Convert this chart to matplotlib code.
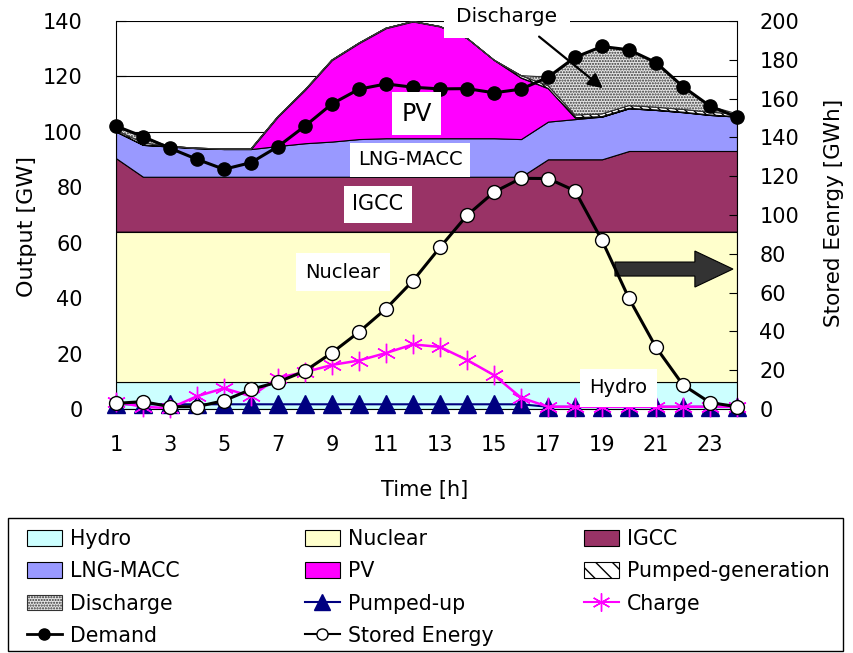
import numpy as np
import matplotlib
matplotlib.use("Agg")
import matplotlib.pyplot as plt
from matplotlib.patches import Patch, FancyArrow, Rectangle
from matplotlib.lines import Line2D

plt.rcParams['font.family'] = ['DejaVu Sans']
plt.rcParams['hatch.linewidth'] = 1.0

hours = np.arange(1, 25)

# GW, stacked from the bottom
hydro = [9.9] * 24
nuclear = [54.1] * 24
igcc = [26.5] + [19.8] * 15 + [26.1] * 3 + [29.1] * 5
lng = [9.6, 11.5, 10.9, 10.3, 10.0, 10.0, 11.1, 12.1, 12.7, 13.6, 13.9, 13.9,
       13.9, 13.9, 13.9, 13.6, 13.6, 14.5, 15.4, 15.4, 14.8, 14.0, 13.0, 12.4]
pv = [0, 0, 0, 0, 0, 0, 10.6, 19.2, 29.4, 34.6, 39.7, 42.1,
      40.3, 36.1, 28.2, 22.1, 12.0, 0.5, 0, 0, 0, 0, 0, 0]
pumped_gen = [0.5, 0.8, 0, 0, 0, 0, 0, 0, 0, 0, 0, 0,
              0, 0, 0, 0.8, 1.0, 1.0, 1.0, 1.0, 1.0, 1.0, 1.0, 1.0]
discharge = [1.5, 2.0, 0, 0, 0, 0, 0, 0, 0, 0, 0, 0,
             0, 0, 0, 0, 3.0, 20.8, 24.3, 20.1, 16.1, 8.2, 2.2, 0]

# GW lines
demand = [102.1, 98.3, 94.1, 90.1, 86.5, 88.9, 94.7, 102.1, 110.1, 115.4, 117.3, 116.1,
          115.5, 115.6, 114.1, 115.4, 119.7, 126.9, 130.8, 129.6, 125.0, 116.3, 109.3, 105.3]
charge = [2.5, 0.8, 0.3, 4.6, 7.5, 4.6, 11.3, 13.3, 15.9, 17.5, 20.2, 23.3,
          22.4, 17.7, 12.2, 4.1, 0.8, 0.8, 0.8, 0.8, 0.8, 0.8, 0.8, 0.8]
pumped_up = [1.7] * 16 + [0.8] * 8

# GWh, right axis
stored = [2.9, 3.8, 1.2, 1.2, 4.3, 10.1, 13.9, 19.6, 29.0, 39.7, 51.7, 66.1,
          83.3, 99.8, 111.8, 118.9, 118.8, 112.5, 86.9, 57.0, 31.8, 12.4, 3.3, 1.2]

xticks = list(range(1, 24, 2))

fig = plt.figure(figsize=(8.54, 6.53), dpi=100)
ax = fig.add_axes([116 / 854, 1 - 409 / 653, 621 / 854, 388 / 653])

layers = [
    (hydro, dict(facecolor='#CCFFFF')),
    (nuclear, dict(facecolor='#FFFFCC')),
    (igcc, dict(facecolor='#993366')),
    (lng, dict(facecolor='#9999FF')),
    (pv, dict(facecolor='#FF00FF')),
    (pumped_gen, dict(facecolor='white', hatch='\\\\\\\\')),
    (discharge, dict(facecolor='#e6e6e6', hatch='......')),
]
base = np.zeros(24)
for vals, style in layers:
    top = base + np.array(vals)
    ec = '#333333' if style.get('hatch') == '......' else 'black'
    ax.fill_between(hours, base, top, edgecolor=ec, linewidth=0.8, **style)
    base = top

ax.plot(hours, pumped_up, color='#000080', lw=1.5, marker='^', ms=13,
        clip_on=False, zorder=4)
ax.plot(hours, charge, color='#FF00FF', lw=1.8, marker=(6, 2, 0), ms=14,
        mew=1.0, clip_on=False, zorder=4)
ax.plot(hours, demand, color='black', lw=2.2, marker='o', ms=9.5,
        clip_on=False, zorder=5)

ax.set_xlim(1, 24)
ax.set_ylim(0, 140)
ax.set_yticks(range(0, 141, 20))
ax.set_xticks(xticks)
ax.set_axisbelow(True)
ax.grid(axis='y', color='black', lw=0.8)
ax.tick_params(axis='y', direction='in', length=7, labelsize=15, pad=24)
ax.tick_params(axis='x', length=0, labelsize=15, pad=19)
for s in ('top', 'right'):
    ax.spines[s].set_visible(False)

ax2 = ax.twinx()
ax2.plot(hours, stored, color='black', lw=2.2, marker='o', ms=10,
         mfc='white', mec='black', mew=1.0, clip_on=False, zorder=6)
ax2.set_ylim(0, 200)
ax2.set_yticks(range(0, 201, 20))
ax2.tick_params(axis='y', direction='in', length=6, labelsize=15, pad=16)
for s in ('top', 'left', 'bottom'):
    ax2.spines[s].set_visible(False)

ax.set_ylabel('Output [GW]', fontsize=16)
ax.yaxis.set_label_coords(-0.143, 0.47)
ax.yaxis.label.set_va('center')
ax2.set_ylabel('Stored Eenrgy [GWh]', fontsize=15.5)
ax2.yaxis.set_label_coords(1.156, 0.505)
ax2.yaxis.label.set_va('center')
ax.set_xlabel('Time [h]', fontsize=15)
ax.xaxis.set_label_coords(0.497, -0.208)
ax.xaxis.label.set_va('center')

box = dict(facecolor='white', edgecolor='none', boxstyle='square,pad=0.4')
ax.text(12.13, 106.6, 'PV', fontsize=17, ha='center', va='center', bbox=box, zorder=7)
ax.text(11.89, 89.9, 'LNG-MACC', fontsize=14, ha='center', va='center', bbox=box, zorder=7)
ax.text(10.69, 73.8, 'IGCC', fontsize=15, ha='center', va='center', bbox=box, zorder=7)
ax.text(9.41, 49.4, 'Nuclear', fontsize=14, ha='center', va='center',
        bbox=dict(facecolor='white', edgecolor='none', boxstyle='square,pad=0.5'), zorder=7)
ax.text(19.61, 7.6, 'Hydro', fontsize=14, ha='center', va='center',
        bbox=dict(facecolor='white', edgecolor='none', boxstyle='square,pad=0.5'), zorder=7)
ax.text(15.48, 141.5, 'Discharge', fontsize=14.5, ha='center', va='center',
        bbox=dict(facecolor='white', edgecolor='none', boxstyle='square,pad=0.6'), zorder=7)
ax.annotate('', xy=(19.11, 115.1), xytext=(16.59, 135.0),
            arrowprops=dict(arrowstyle='-|>', color='black', lw=1.6, mutation_scale=22),
            zorder=8)
ax.add_patch(FancyArrow(19.48, 50.5, 4.37, 0, width=5.05, head_width=13,
                        head_length=1.41, length_includes_head=True,
                        facecolor='#333333', edgecolor='black', lw=0.8, zorder=8))

# legend: three columns placed separately inside one frame
columns = [
    ([Patch(facecolor='#CCFFFF', edgecolor='black', lw=0.8),
      Patch(facecolor='#9999FF', edgecolor='black', lw=0.8),
      Patch(facecolor='#e6e6e6', edgecolor='#333333', hatch='......', lw=0.8),
      Line2D([], [], color='black', lw=2, marker='o', ms=8)],
     ['Hydro', 'LNG-MACC', 'Discharge', 'Demand'], 27),
    ([Patch(facecolor='#FFFFCC', edgecolor='black', lw=0.8),
      Patch(facecolor='#FF00FF', edgecolor='black', lw=0.8),
      Line2D([], [], color='#000080', lw=1.5, marker='^', ms=11),
      Line2D([], [], color='black', lw=1.5, marker='o', ms=8, mfc='white', mew=1)],
     ['Nuclear', 'PV', 'Pumped-up', 'Stored Energy'], 305),
    ([Patch(facecolor='#993366', edgecolor='black', lw=0.8),
      Patch(facecolor='white', edgecolor='black', hatch='\\\\', lw=0.8),
      Line2D([], [], color='#FF00FF', lw=1.5, marker=(6, 2, 0), ms=13, mew=1)],
     ['IGCC', 'Pumped-generation', 'Charge'], 584),
]
for hs, ls, x0 in columns:
    fig.legend(hs, ls, loc='upper left', bbox_to_anchor=(x0 / 854, 1 - 529 / 653),
               fontsize=14.8, frameon=False, borderpad=0, borderaxespad=0,
               handlelength=1.7, handleheight=0.8, handletextpad=0.39,
               labelspacing=0.6)
fig.patches.append(Rectangle((8 / 854, 2 / 653), 835 / 854, 133 / 653,
                             transform=fig.transFigure, fill=False,
                             edgecolor='black', lw=1.0))

fig.savefig('out.png', dpi=100)
